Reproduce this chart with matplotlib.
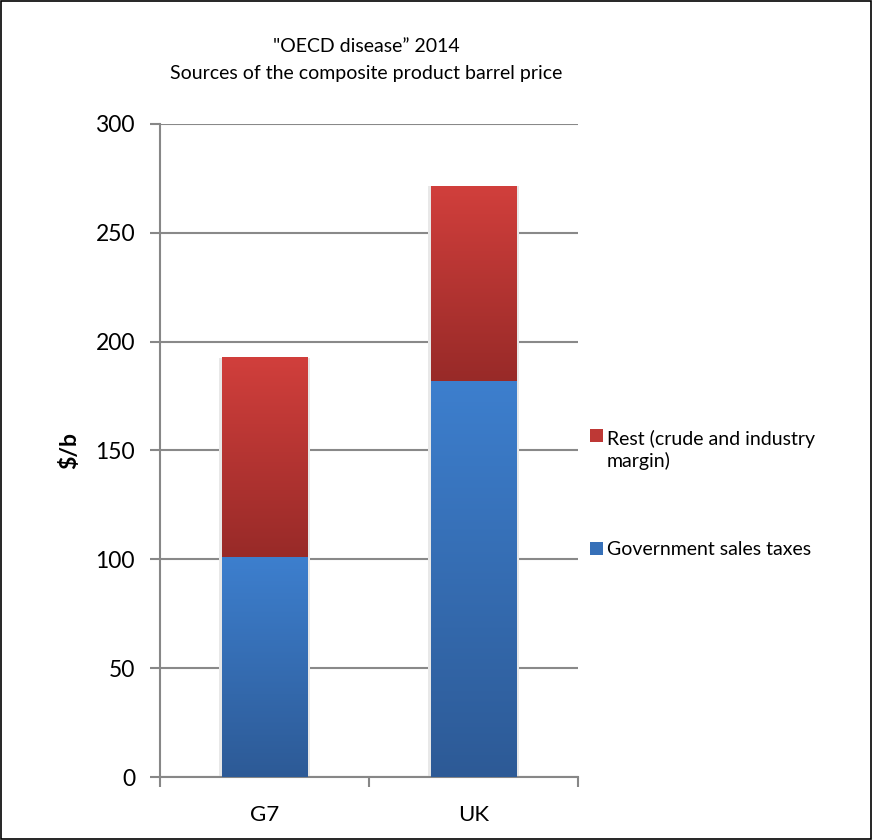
import matplotlib
matplotlib.use('Agg')
import matplotlib.pyplot as plt
import numpy as np
from matplotlib.colors import LinearSegmentedColormap
from matplotlib.patches import Rectangle

plt.rcParams['font.family'] = ['Lato', 'DejaVu Sans']

categories = ['G7', 'UK']
taxes = [101, 182]
rest = [91.5, 89.5]
series_names = ['Rest (crude and industry\nmargin)', 'Government sales taxes']

BAR_W = 0.41
blue_cmap = LinearSegmentedColormap.from_list('blue', ['#2D5A96', '#3D7FCE'])
red_cmap = LinearSegmentedColormap.from_list('red', ['#982A28', '#D13F3C'])


def gradient_bar(ax, x, bottom, height, cmap):
    grad = np.linspace(0, 1, 256).reshape(-1, 1)
    ax.imshow(grad, cmap=cmap, origin='lower', aspect='auto', interpolation='bilinear',
              extent=[x - BAR_W / 2, x + BAR_W / 2, bottom, bottom + height], zorder=3)


fig = plt.figure(figsize=(8.72, 8.40), dpi=100)
ax = fig.add_axes([0.1835, 0.075, 0.4794, 0.7774])

xs = np.arange(len(categories))
for i, x in enumerate(xs):
    # faint shadow like the excel bars
    ax.bar(x, taxes[i] + rest[i], width=BAR_W + 0.025, color='#E8E8E8', zorder=2)
    gradient_bar(ax, x, 0, taxes[i], blue_cmap)
    gradient_bar(ax, x, taxes[i], rest[i], red_cmap)

ax.set_xlim(-0.5, len(categories) - 0.5)
ax.set_ylim(0, 300)
ax.set_yticks(range(0, 301, 50))
ax.set_xticks(xs)
ax.set_xticklabels(categories)
ax.set_xticks(np.arange(-0.5, len(categories)), minor=True)
ax.tick_params(axis='x', which='major', length=0, pad=20, labelsize=16)
ax.tick_params(axis='x', which='minor', length=7, width=1.5, color='#878787', direction='out')
ax.tick_params(axis='y', length=7, width=1.5, color='#878787', labelsize=16.5, pad=11)

ax.grid(axis='y', color='#898989', linewidth=1.5, zorder=0)
ax.set_axisbelow(True)
for s in ['top', 'right']:
    ax.spines[s].set_visible(False)
for s in ['left', 'bottom']:
    ax.spines[s].set_color('#878787')
    ax.spines[s].set_linewidth(1.5)

ax.set_ylabel('$/b', fontsize=16.5, fontweight='bold')
ax.yaxis.set_label_coords(-0.19, 0.5)

fig.text(0.42, 0.945, '"OECD disease\u201d 2014', ha='center', va='center', fontsize=14)
fig.text(0.42, 0.913, 'Sources of the composite product barrel price', ha='center', va='center', fontsize=14)

# legend drawn by hand so the red square sits on the first line like excel
legend_colors = ['#BE3835', '#3670B8']
legend_square_y = [0.4738, 0.3393]
legend_text_y = [0.4440, 0.3393]  # baseline of the last line of each label
for name, col, ys, yt in zip(series_names, legend_colors, legend_square_y, legend_text_y):
    fig.patches.append(Rectangle((0.6766, ys), 0.0149, 0.0155, transform=fig.transFigure,
                                 facecolor=col, edgecolor='none'))
    fig.text(0.696, yt, name, ha='left', va='baseline', fontsize=14, linespacing=1.25)

fig.patches.append(Rectangle((0.0006, 0.0006), 0.9988, 0.9988, transform=fig.transFigure,
                             fill=False, edgecolor='black', linewidth=1.2))

fig.savefig('out.png', dpi=100)
